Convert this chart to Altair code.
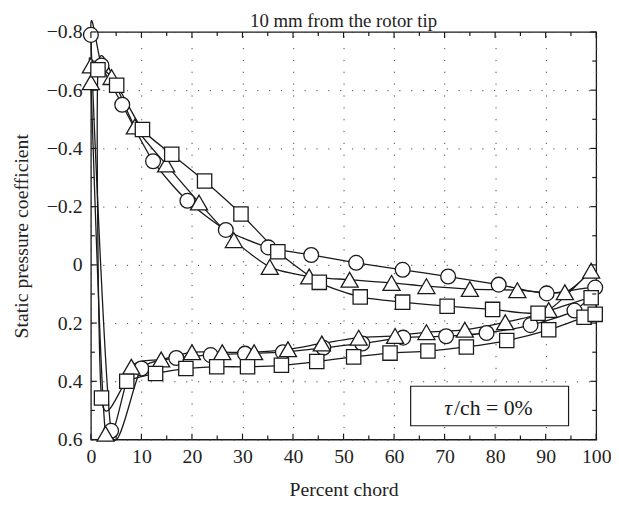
import altair as alt
import pandas as pd

# ---------------- data ----------------
# circles
circ_suc_x = [0, 2.1, 6.2, 12.3, 19.1, 26.7, 35.1, 43.6, 52.5, 61.7, 70.7, 80.7, 90.2, 99.8]
circ_suc_y = [-0.79, -0.685, -0.55, -0.356, -0.22, -0.12, -0.06, -0.034, -0.007, 0.017, 0.04, 0.068, 0.098, 0.078]
circ_pre_x = [4.0, 10.0, 16.9, 23.7, 30.5, 38.0, 46.0, 53.7, 61.8, 70.3, 78.3, 87.0, 95.7]
circ_pre_y = [0.57, 0.356, 0.32, 0.31, 0.305, 0.30, 0.285, 0.27, 0.25, 0.245, 0.234, 0.207, 0.157]
# triangles
tri_suc_x = [0, 4.1, 8.7, 14.9, 21.4, 28.3, 35.4, 43.2, 51.2, 59.5, 66.4, 75.0, 84.4, 93.8, 99.0]
tri_suc_y = [-0.685, -0.645, -0.475, -0.345, -0.214, -0.085, 0.007, 0.04, 0.051, 0.062, 0.073, 0.083, 0.087, 0.094, 0.02]
tri_pre_x = [0, 2.9, 8.0, 13.9, 20.0, 26.0, 32.3, 39.0, 45.7, 53.0, 60.2, 66.4, 74.0, 82.0, 90.6]
tri_pre_y = [-0.627, 0.58, 0.35, 0.325, 0.30, 0.30, 0.30, 0.29, 0.27, 0.25, 0.244, 0.231, 0.223, 0.197, 0.155]
# squares
sq_suc_x = [1.4, 5.1, 10.2, 16.0, 22.5, 29.7, 37.0, 45.2, 53.3, 61.7, 70.5, 79.5, 88.5, 99.0]
sq_suc_y = [-0.67, -0.617, -0.465, -0.38, -0.288, -0.175, -0.045, 0.06, 0.11, 0.128, 0.142, 0.153, 0.166, 0.113]
sq_pre_x = [2.1, 7.1, 12.8, 18.8, 24.9, 31.0, 37.7, 44.7, 52.0, 59.2, 66.7, 74.3, 82.3, 90.6, 97.6, 99.8]
sq_pre_y = [0.457, 0.40, 0.373, 0.356, 0.35, 0.35, 0.345, 0.332, 0.316, 0.303, 0.296, 0.282, 0.26, 0.223, 0.18, 0.17]

x_major = [0, 10, 20, 30, 40, 50, 60, 70, 80, 90, 100]
x_minor = [5, 15, 25, 35, 45, 55, 65, 75, 85, 95]
y_major = [-0.8, -0.6, -0.4, -0.2, 0, 0.2, 0.4, 0.6]
y_minor = [-0.7, -0.5, -0.3, -0.1, 0.1, 0.3, 0.5]

title_text = ["10 mm from the rotor tip"]
x_title = "Percent chord"
y_title = "Static pressure coefficient"
legend_sym = ["τ"]
legend_rest = ["/ch = 0%"]

FONT = "Liberation Serif"
INK = "#1a1a1a"
FS = 20
W, H = 512, 413

# ---------------- tables ----------------
def path_rows(name, sx, sy, px, py):
    xs = list(reversed(px)) + list(sx)
    ys = list(reversed(py)) + list(sy)
    return [{"series": name, "x": a, "cp": b, "o": i} for i, (a, b) in enumerate(zip(xs, ys))]

lines_df = pd.DataFrame(
    path_rows("circle", circ_suc_x, circ_suc_y, circ_pre_x, circ_pre_y)
    + path_rows("triangle", tri_suc_x, tri_suc_y, tri_pre_x, tri_pre_y)
    + path_rows("square", sq_suc_x, sq_suc_y, sq_pre_x, sq_pre_y)
)

def pts(sx, sy, px, py):
    return pd.DataFrame({"x": list(sx) + list(px), "cp": list(sy) + list(py)})

circ_df = pts(circ_suc_x, circ_suc_y, circ_pre_x, circ_pre_y)
tri_df = pts(tri_suc_x, tri_suc_y, tri_pre_x, tri_pre_y)
sq_df = pts(sq_suc_x, sq_suc_y, sq_pre_x, sq_pre_y)

xscale = alt.Scale(domain=[0, 100], nice=False, zero=False)
yscale = alt.Scale(domain=[-0.8, 0.6], reverse=True, nice=False, zero=False)

x_enc = alt.X("x:Q", scale=xscale, title=x_title,
              axis=alt.Axis(values=x_major, labelPadding=7, titlePadding=14))
y_enc = alt.Y("cp:Q", scale=yscale, title=y_title,
              axis=alt.Axis(values=y_major, labelPadding=9, titlePadding=15,
                            labelExpr="datum.value == 0 ? '0' : format(datum.value, '.1f')"))

xq = alt.X("x:Q", scale=xscale, title=x_title)
yq = alt.Y("cp:Q", scale=yscale, title=y_title)

lines = alt.Chart(lines_df).mark_line(
    interpolate="cardinal-closed", tension=0.3, color=INK, strokeWidth=1.3
).encode(x=x_enc, y=y_enc, detail="series:N", order="o:Q")

mk = dict(filled=True, fill="white", stroke=INK, strokeWidth=1.3, opacity=1)
circles = alt.Chart(circ_df).mark_point(shape="circle", size=225, **mk).encode(x=xq, y=yq)
triangles = alt.Chart(tri_df).mark_point(shape="triangle-up", size=300, **mk).encode(x=xq, y=yq)
squares = alt.Chart(sq_df).mark_point(shape="square", size=210, **mk).encode(x=xq, y=yq)

# inward ticks
xt_maj = pd.DataFrame({"x": x_major})
xt_min = pd.DataFrame({"x": x_minor})
yt_maj = pd.DataFrame({"cp": y_major})
yt_min = pd.DataFrame({"cp": y_minor})
tk = dict(color=INK, strokeWidth=1.2)
ticks = [
    alt.Chart(xt_maj).mark_rule(**tk).encode(x=xq, y=alt.value(H), y2=alt.value(H - 6)),
    alt.Chart(xt_maj).mark_rule(**tk).encode(x=xq, y=alt.value(0), y2=alt.value(6)),
    alt.Chart(xt_min).mark_rule(**tk).encode(x=xq, y=alt.value(H), y2=alt.value(H - 4)),
    alt.Chart(xt_min).mark_rule(**tk).encode(x=xq, y=alt.value(0), y2=alt.value(4)),
    alt.Chart(yt_maj).mark_rule(**tk).encode(y=yq, x=alt.value(0), x2=alt.value(6)),
    alt.Chart(yt_maj).mark_rule(**tk).encode(y=yq, x=alt.value(W), x2=alt.value(W - 6)),
    alt.Chart(yt_min).mark_rule(**tk).encode(y=yq, x=alt.value(0), x2=alt.value(4)),
    alt.Chart(yt_min).mark_rule(**tk).encode(y=yq, x=alt.value(W), x2=alt.value(W - 4)),
]

# legend box
leg_df = pd.DataFrame({"sym": legend_sym, "rest": legend_rest})
leg_box = alt.Chart(leg_df).mark_rect(fill="white", stroke=INK, strokeWidth=1.2).encode(
    x=alt.value(324), x2=alt.value(484), y=alt.value(359), y2=alt.value(399))
leg_sym = alt.Chart(leg_df).mark_text(font=FONT, fontSize=22, fontStyle="italic", align="left",
                                      baseline="middle", color=INK).encode(
    x=alt.value(358), y=alt.value(381), text="sym:N")
leg_rest = alt.Chart(leg_df).mark_text(font=FONT, fontSize=22, align="left",
                                       baseline="middle", color=INK).encode(
    x=alt.value(368), y=alt.value(381), text="rest:N")

# title as text
title_df = pd.DataFrame({"t": title_text})
title = alt.Chart(title_df).mark_text(font=FONT, fontSize=19, align="center",
                                      baseline="alphabetic", color="#222").encode(
    x=alt.value(W / 2), y=alt.value(-5), text="t:N")

chart = alt.layer(lines, circles, triangles, squares, leg_box, leg_sym, leg_rest, title, *ticks).properties(
    width=W, height=H,
    background="white",
    autosize=alt.AutoSizeParams(type="none"),
    padding={"left": 84, "top": 21, "right": 15, "bottom": 60},
).configure_view(
    stroke=INK, strokeWidth=1.3
).configure_axis(
    ticks=False, domain=False, grid=True,
    gridDash=[1.2, 10.8], gridColor="#444", gridWidth=1, gridOpacity=1,
    labelFont=FONT, labelFontSize=FS, labelColor="#222", labelFlush=False,
    titleFont=FONT, titleFontSize=FS, titleFontWeight="normal", titleColor="#222",
)

chart.save("out.html", embed_options={"renderer": "svg", "actions": False})
